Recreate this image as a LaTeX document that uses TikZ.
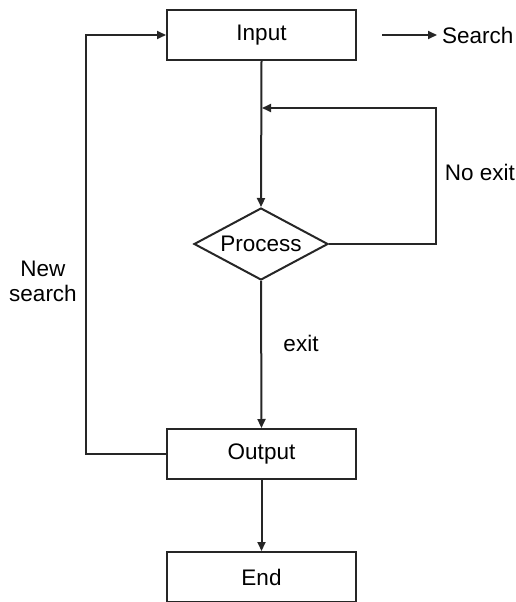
\documentclass[tikz,border=0pt]{standalone}
\usepackage{fontspec}
\setmainfont{Liberation Sans}
\usetikzlibrary{shapes.geometric,arrows.meta}
\begin{document}
\begin{tikzpicture}[x=1pt,y=-1pt,
  every node/.style={font=\fontsize{22.5}{25}\selectfont},
  box/.style={draw=black!85,line width=2pt,minimum width=189pt,minimum height=50pt,inner sep=0pt},
  dia/.style={draw=black!85,line width=2pt,diamond,aspect=1.86,minimum width=134pt,minimum height=72pt,inner sep=0pt},
  lbl/.style={align=center},
  conn/.style={draw=black!85,line width=2pt},
  arr/.style={conn,-{Triangle[length=9pt,width=8pt]}}]
\useasboundingbox (0,0) rectangle (515,602);
\node[box] (input) at (261.5,35) {Input};
\node[dia] (proc) at (261,244) {Process};
\node[box] (output) at (261.5,454) {Output};
\node[box] (end) at (261.5,577) {End};
\node[anchor=west,inner xsep=5pt,inner ysep=0pt] (search) at (437,35) {Search};
\coordinate (sfrom) at (382,35);
\coordinate (tj) at (262,108);
\coordinate (tr) at (436,108);
\coordinate (br) at (436,244);
\coordinate (ll) at (86,454);
\coordinate (lt) at (86,35);
\node[lbl] (noexit) at (480,172) {No exit};
\node[lbl] (newsearch) at (43,281) {New\\search};
\node[lbl] (exitl) at (301,343) {exit};
\draw[arr] (sfrom) -- (search.west);
\draw[arr] (input.south) -- (proc.north);
\draw[arr] (proc.east) -- (br) -- (tr) -- (tj);
\draw[arr] (proc.south) -- (output.north);
\draw[arr] (output.south) -- (end.north);
\draw[arr] (output.west) -- (ll) -- (lt) -- (input.west);
\end{tikzpicture}
\end{document}
